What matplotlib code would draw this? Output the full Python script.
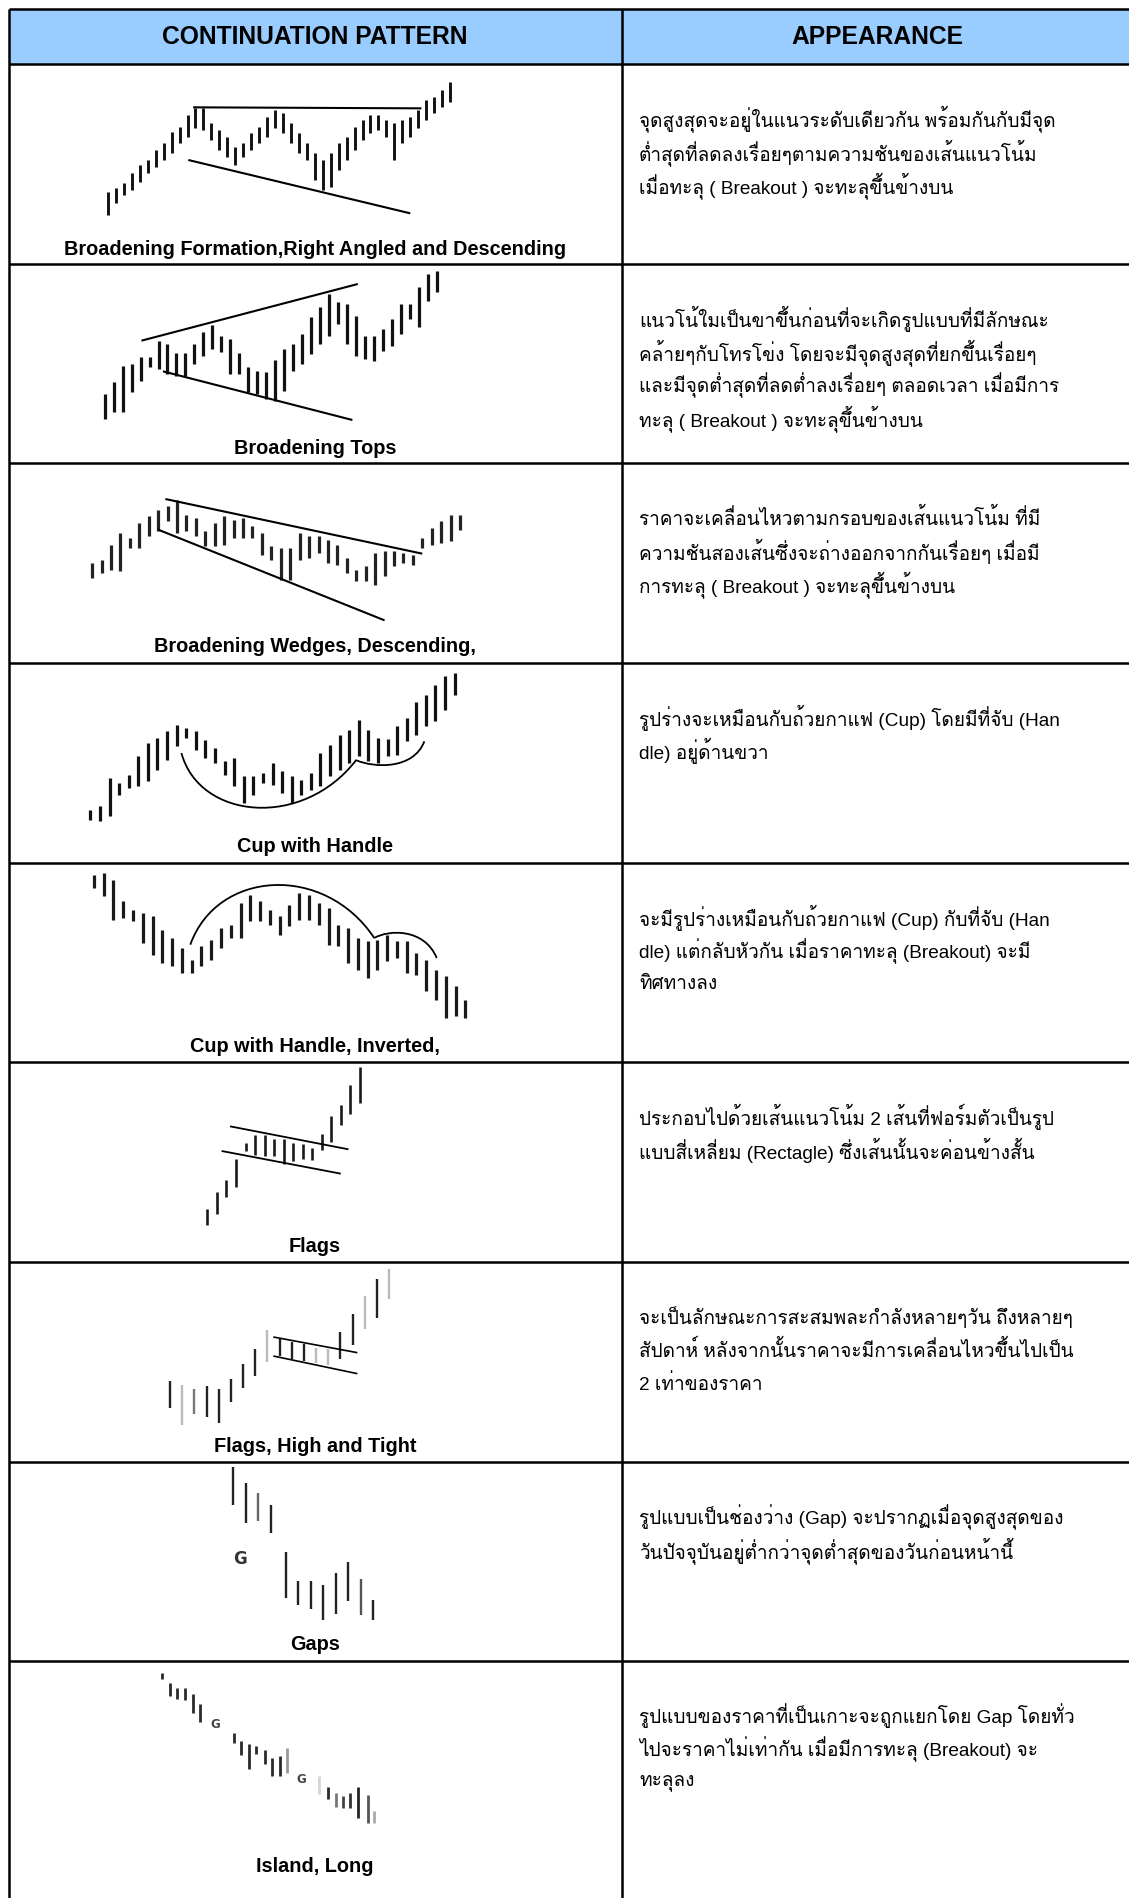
import numpy as np
import matplotlib
matplotlib.use("Agg")
import matplotlib.pyplot as plt
from matplotlib import font_manager as fm
from matplotlib.ft2font import FT2Font
from matplotlib.path import Path
from matplotlib.patches import PathPatch, Rectangle

W, H = 1129, 1898

# ---------------- data ----------------
header = ["CONTINUATION PATTERN", "APPEARANCE"]

captions = [
    "Broadening Formation,Right Angled and Descending",
    "Broadening Tops",
    "Broadening Wedges, Descending,",
    "Cup with Handle",
    "Cup with Handle, Inverted,",
    "Flags",
    "Flags, High and Tight",
    "Gaps",
    "Island, Long",
]

descriptions = [
    ["จุดสูงสุดจะอยู่ในแนวระดับเดียวกัน พร้อมกันกับมีจุด",
     "ต่ำสุดที่ลดลงเรื่อยๆตามความชันของเส้นแนวโน้ม",
     "เมื่อทะลุ ( Breakout ) จะทะลุขึ้นข้างบน"],
    ["แนวโน้ใมเป็นขาขึ้นก่อนที่จะเกิดรูปแบบที่มีลักษณะ",
     "คล้ายๆกับโทรโข่ง โดยจะมีจุดสูงสุดที่ยกขึ้นเรื่อยๆ",
     "และมีจุดต่ำสุดที่ลดต่ำลงเรื่อยๆ ตลอดเวลา เมื่อมีการ",
     "ทะลุ ( Breakout ) จะทะลุขึ้นข้างบน"],
    ["ราคาจะเคลื่อนไหวตามกรอบของเส้นแนวโน้ม ที่มี",
     "ความชันสองเส้นซึ่งจะถ่างออกจากกันเรื่อยๆ เมื่อมี",
     "การทะลุ ( Breakout ) จะทะลุขึ้นข้างบน"],
    ["รูปร่างจะเหมือนกับถ้วยกาแฟ (Cup) โดยมีที่จับ (Han",
     "dle) อยู่ด้านขวา"],
    ["จะมีรูปร่างเหมือนกับถ้วยกาแฟ (Cup) กับที่จับ (Han",
     "dle) แต่กลับหัวกัน เมื่อราคาทะลุ (Breakout) จะมี",
     "ทิศทางลง"],
    ["ประกอบไปด้วยเส้นแนวโน้ม 2 เส้นที่ฟอร์มตัวเป็นรูป",
     "แบบสี่เหลี่ยม (Rectagle) ซึ่งเส้นนั้นจะค่อนข้างสั้น"],
    ["จะเป็นลักษณะการสะสมพละกำลังหลายๆวัน ถึงหลายๆ",
     "สัปดาห์ หลังจากนั้นราคาจะมีการเคลื่อนไหวขึ้นไปเป็น",
     "2 เท่าของราคา"],
    ["รูปแบบเป็นช่องว่าง (Gap) จะปรากฏเมื่อจุดสูงสุดของ",
     "วันปัจจุบันอยู่ต่ำกว่าจุดต่ำสุดของวันก่อนหน้านี้"],
    ["รูปแบบของราคาที่เป็นเกาะจะถูกแยกโดย Gap โดยทั่ว",
     "ไปจะราคาไม่เท่ากัน เมื่อมีการทะลุ (Breakout) จะ",
     "ทะลุลง"],
]

# bar sketches: tops / bottoms measured as depth below the top of each sketch
p1_top = [575, 565, 550, 520, 495, 480, 450, 430, 395, 380, 345, 325, 325, 370, 390,
          410, 440, 430, 400, 380, 350, 330, 340, 370, 400, 430, 460, 480, 460, 430,
          410, 380, 360, 345, 345, 360, 370, 360, 350, 330, 300, 290, 270, 245]
p1_bot = [645, 610, 585, 570, 545, 520, 500, 480, 460, 430, 410, 385, 390, 420, 450,
          470, 495, 470, 450, 430, 410, 385, 400, 430, 460, 480, 540, 570, 560, 510,
          480, 450, 420, 400, 390, 410, 480, 430, 410, 385, 360, 340, 320, 305]
p1_lines = [[(10.7, 322), (39.4, 325)], [(10.1, 480), (38.0, 640)]]

p2_top = [390, 355, 305, 300, 280, 280, 232, 240, 268, 268, 240, 205, 183, 215, 225,
          268, 310, 320, 325, 288, 255, 240, 210, 160, 130, 90, 115, 120, 155, 215,
          215, 195, 165, 120, 120, 70, 30, 20]
p2_bot = [465, 445, 445, 385, 350, 310, 315, 330, 335, 335, 300, 275, 255, 265, 330,
          330, 385, 390, 405, 410, 380, 320, 300, 270, 240, 215, 180, 240, 275, 285,
          290, 260, 245, 210, 165, 190, 110, 85]
p2_lines = [[(4.1, 230), (28.2, 60)], [(6.5, 322), (27.6, 468)]]

p3_top = [300, 290, 245, 210, 225, 180, 160, 140, 130, 110, 155, 165, 205, 180, 160,
          170, 165, 190, 210, 250, 255, 255, 210, 220, 220, 230, 245, 285, 320, 310,
          270, 265, 265, 270, 275, 225, 195, 175, 155, 155]
p3_bot = [345, 330, 320, 325, 255, 255, 220, 205, 175, 210, 205, 220, 250, 250, 245,
          225, 225, 225, 275, 290, 350, 350, 290, 285, 270, 300, 305, 330, 355, 355,
          365, 340, 310, 300, 305, 255, 245, 240, 235, 200]
p3_lines = [[(7.76, 108), (35.0, 272)], [(7.0, 200), (31.0, 472)]]

p4_top = [440, 430, 345, 360, 335, 280, 240, 225, 205, 185, 195, 205, 230, 255, 295,
          285, 340, 340, 330, 300, 325, 340, 350, 330, 270, 245, 215, 200, 170, 200,
          225, 228, 188, 165, 118, 95, 65, 38, 30]
p4_bot = [470, 475, 460, 395, 375, 370, 355, 320, 290, 250, 225, 260, 285, 300, 335,
          370, 420, 395, 360, 365, 390, 420, 395, 380, 370, 340, 320, 300, 280, 295,
          300, 280, 275, 235, 215, 190, 175, 140, 95]
p4_curves = [[(9.5, 270), (11.36, 470), (22.17, 500), (27.76, 290)],
             [(27.76, 292), (29.62, 315), (33.72, 320), (34.84, 235)]]

p5_top = [35, 30, 50, 115, 140, 150, 160, 200, 225, 255, 290, 250, 230, 195, 185,
          120, 95, 115, 140, 160, 125, 90, 95, 120, 135, 185, 195, 225, 235, 230,
          215, 235, 235, 270, 290, 320, 340, 370, 410]
p5_bot = [75, 100, 170, 165, 175, 240, 275, 300, 310, 330, 330, 310, 290, 255, 225,
          225, 175, 175, 185, 215, 190, 170, 170, 185, 245, 250, 300, 320, 345, 320,
          295, 285, 330, 335, 385, 410, 465, 460, 465]
p5_curves = [[(9.86, 245), (12.6, 20), (23.57, 0), (28.68, 225)],
             [(28.68, 225), (30.14, 200), (33.8, 195), (35.07, 285)]]

p6_top = [440, 390, 355, 292, 243, 218, 220, 230, 232, 242, 245, 257, 215, 162, 130, 70, 15]
p6_bot = [488, 455, 405, 375, 268, 278, 282, 283, 305, 298, 290, 295, 265, 240, 190, 155, 122]
p6_lines = [[(2.38, 193), (14.79, 262)], [(1.5, 267), (13.99, 335)]]

p7_top = [357, 368, 382, 372, 382, 350, 305, 260, 205, 230, 240, 245, 258, 262, 210,
          155, 102, 52, 20]
p7_bot = [437, 490, 455, 465, 482, 420, 377, 342, 300, 283, 290, 298, 302, 310, 292,
          250, 202, 167, 112]
p7_shade = ["#222222", "#bbbbbb", "#777777", "#222222", "#222222", "#222222", "#222222",
            "#222222", "#bbbbbb", "#222222", "#222222", "#222222", "#bbbbbb", "#bbbbbb",
            "#222222", "#222222", "#bbbbbb", "#222222", "#bbbbbb"]
p7_lines = [[(8.49, 225), (15.4, 272)], [(8.49, 282), (15.4, 335)]]

p8_day = [0, 1, 2, 3, 4.2, 5.2, 6.2, 7.2, 8.2, 9.2, 10.2, 11.2]
p8_top = [15, 62, 93, 130, 270, 358, 358, 368, 333, 300, 350, 413]
p8_bot = [128, 183, 178, 213, 408, 430, 440, 475, 455, 418, 458, 475]
p8_shade = ["#222222", "#222222", "#666666", "#222222", "#222222", "#222222",
            "#222222", "#222222", "#222222", "#222222", "#555555", "#222222"]
p8_gap_day = [0.53]
p8_gap_depth = [290]

p9_day = [0, 1, 2, 3, 4, 5, 9.5, 10.4, 11.4, 12.4, 13.5, 14.5, 15.5, 16.4,
          20.7, 21.9, 23, 23.8, 24.8, 25.8, 27.1, 28]
p9_top = [35, 65, 80, 80, 100, 130, 215, 240, 250, 255, 268, 290, 285, 262,
          345, 378, 395, 405, 395, 378, 403, 450]
p9_bot = [55, 105, 115, 118, 155, 182, 245, 282, 325, 280, 310, 345, 345, 335,
          400, 415, 438, 440, 440, 470, 485, 485]
p9_shade = ["#2a2a2a"] * 13 + ["#999999", "#d5d5d5", "#2a2a2a", "#777777", "#444444",
                               "#333333", "#222222", "#555555", "#aaaaaa"]
p9_gap_day = [6.96, 18.4]
p9_gap_depth = [190, 355]

# ---------------- fonts ----------------
def find_thai():
    for f in fm.fontManager.ttflist:
        try:
            if 0x0E01 in FT2Font(f.fname).get_charmap():
                return f.name
        except Exception:
            continue
    return None

thai = find_thai()
body_fam = ["Liberation Sans"] + ([thai] if thai else []) + ["DejaVu Sans"]
plt.rcParams["font.family"] = body_fam

# ---------------- layout ----------------
row_tops = [64, 264, 463, 663, 863, 1062, 1262, 1462, 1661]
col_split = 622
edge = 9

fig = plt.figure(figsize=(W / 100, H / 100), dpi=100)
ax = fig.add_axes([0, 0, 1, 1])
ax.set_xlim(0, W)
ax.set_ylim(H, 0)
ax.axis("off")

ax.add_patch(Rectangle((edge, edge), W - edge, 64 - edge, fc="#99ccff", ec="none"))
ax.hlines([edge] + row_tops, edge, W, color="black", lw=1.8)
ax.vlines([edge, col_split], edge, H, color="black", lw=1.8)

ax.text(315, 37, header[0], ha="center", va="center", fontsize=17.7,
        fontweight="bold", family="Liberation Sans")
ax.text(877, 37, header[1], ha="center", va="center", fontsize=17.7,
        fontweight="bold", family="Liberation Sans")

caption_y = [249, 448, 647, 847, 1046, 1246, 1446, 1645, 1867]
for cap, cy in zip(captions, caption_y):
    ax.text(315, cy, cap, ha="center", va="center", fontsize=14.3,
            fontweight="bold", family="Liberation Sans")

for top, lines in zip(row_tops, descriptions):
    for k, line in enumerate(lines):
        ax.text(639, top + 55 + 33.3 * k, line, ha="left", va="center",
                fontsize=13.7, family=body_fam)


def sketch(crop_x, crop_y, crop_h, sx, first_dx, last_dx, x0, x1):
    left = crop_x + first_dx / sx
    right = crop_x + last_dx / sx
    a = fig.add_axes([left / W, 1 - (crop_y + crop_h) / H, (right - left) / W, crop_h / H])
    a.set_xlim(x0, x1)
    a.set_ylim(crop_h * 3, 0)
    a.axis("off")
    a.patch.set_alpha(0)
    return a


def bars(a, x, top, bot, color="#111111", lw=2.3):
    a.vlines(x, top, bot, colors=color, lw=lw, clip_on=False)


def trend(a, seg, lw=1.5):
    (xa, ya), (xb, yb) = seg
    a.plot([xa, xb], [ya, yb], color="black", lw=lw, clip_on=False,
           solid_capstyle="butt")


def arc(a, pts, lw=1.3):
    path = Path(pts, [Path.MOVETO, Path.CURVE4, Path.CURVE4, Path.CURVE4])
    a.add_patch(PathPatch(path, fill=False, ec="black", lw=lw, clip_on=False))


# 1 broadening formation
a = sketch(0, 0, 270, 1568 / 1129, 150, 625, 0, len(p1_top) - 1)
bars(a, np.arange(len(p1_top)), p1_top, p1_bot, lw=2.1)
for s in p1_lines:
    trend(a, s)

# 2 broadening tops
a = sketch(60, 264, 200, 2.8, 125, 1055, 0, len(p2_top) - 1)
bars(a, np.arange(len(p2_top)), p2_top, p2_bot)
for s in p2_lines:
    trend(a, s)

# 3 broadening wedges
a = sketch(60, 463, 200, 2.8, 90, 1120, 0, len(p3_top) - 1)
bars(a, np.arange(len(p3_top)), p3_top, p3_bot, color="#222222")
for s in p3_lines:
    trend(a, s)

# 4 cup with handle
a = sketch(60, 663, 200, 2.8, 85, 1105, 0, len(p4_top) - 1)
bars(a, np.arange(len(p4_top)), p4_top, p4_bot)
for c in p4_curves:
    arc(a, c)

# 5 cup with handle inverted
a = sketch(60, 863, 200, 2.8, 95, 1135, 0, len(p5_top) - 1)
bars(a, np.arange(len(p5_top)), p5_top, p5_bot, color="#1a1a1a")
for c in p5_curves:
    arc(a, c)

# 6 flags
a = sketch(120, 1062, 200, 3, 262, 720, 0, len(p6_top) - 1)
bars(a, np.arange(len(p6_top)), p6_top, p6_bot, color="#1a1a1a", lw=1.9)
for s in p6_lines:
    trend(a, s, lw=1.3)

# 7 flags high and tight
a = sketch(120, 1262, 200, 3, 150, 807, 0, len(p7_top) - 1)
bars(a, np.arange(len(p7_top)), p7_top, p7_bot, color=p7_shade, lw=1.7)
for s in p7_lines:
    trend(a, s, lw=1.2)

# 8 gaps
a = sketch(120, 1462, 200, 3, 340, 760, p8_day[0], p8_day[-1])
bars(a, p8_day, p8_top, p8_bot, color=p8_shade, lw=1.7)
for gx, gy in zip(p8_gap_day, p8_gap_depth):
    a.text(gx, gy, "G", ha="center", va="center", fontsize=12,
           fontweight="bold", color="#333333", family="DejaVu Sans")

# 9 island
a = sketch(120, 1661, 237, 3, 127, 763, p9_day[0], p9_day[-1])
bars(a, p9_day, p9_top, p9_bot, color=p9_shade, lw=2.0)
for gx, gy in zip(p9_gap_day, p9_gap_depth):
    a.text(gx, gy, "G", ha="center", va="center", fontsize=8.5,
           fontweight="bold", color="#444444", family="DejaVu Sans")

fig.savefig("out.png", dpi=100)
